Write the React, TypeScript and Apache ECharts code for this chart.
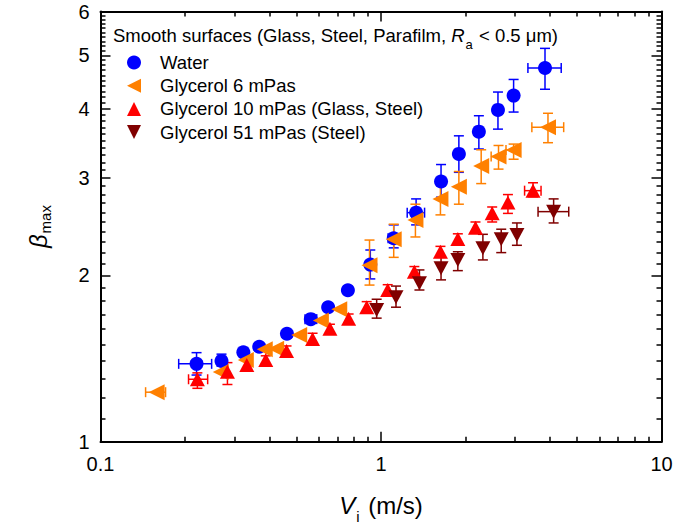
import React, { useEffect, useRef } from 'react';
import * as echarts from 'echarts';

const FONT = '"Liberation Sans", Arial, Helvetica, sans-serif';

// ---- Water ----
const waterV = [0.220, 0.270, 0.323, 0.368, 0.462, 0.562, 0.648, 0.762, 0.916, 1.110, 1.334, 1.637, 1.895, 2.233, 2.612, 2.970, 3.843];
const waterBeta = [1.383, 1.400, 1.451, 1.485, 1.568, 1.666, 1.751, 1.879, 2.091, 2.333, 2.596, 2.955, 3.316, 3.638, 3.982, 4.227, 4.743];
const waterBetaLow = [1.320, 1.370, null, null, null, null, null, null, 1.970, 2.242, 2.467, 2.769, 3.071, 3.384, 3.676, 3.947, 4.340];
const waterBetaHigh = [1.449, 1.440, null, null, null, null, null, null, 2.222, 2.467, 2.749, 3.172, 3.575, 3.887, 4.290, 4.521, 5.146];
const waterVLow = [0.190, null, null, null, null, 0.536, null, null, null, 1.06, 1.24, null, null, null, null, null, 3.34];
const waterVHigh = [0.249, null, null, null, null, 0.590, null, null, null, 1.17, 1.43, null, null, null, null, null, 4.39];

// ---- Glycerol 6 mPas ----
const glyc6V = [0.1585, 0.2683, 0.3296, 0.3851, 0.4228, 0.5108, 0.6105, 0.7098, 0.910, 1.110, 1.3265, 1.629, 1.895, 2.276, 2.624, 2.970, 3.938];
const glyc6Beta = [1.229, 1.337, 1.405, 1.469, 1.473, 1.560, 1.656, 1.736, 2.085, 2.323, 2.518, 2.748, 2.893, 3.153, 3.279, 3.371, 3.706];
const glyc6BetaLow = [null, null, null, null, null, null, null, null, 1.920, 2.155, 2.346, 2.572, 2.689, 2.930, 3.112, 3.243, 3.474];
const glyc6BetaHigh = [null, null, null, null, null, null, null, null, 2.316, 2.474, 2.689, 2.925, 3.081, 3.373, 3.434, 3.454, 3.927];
const glyc6VLow = [0.1448, null, null, null, null, null, null, null, null, null, null, null, null, null, 2.47, 2.79, 3.45];
const glyc6VHigh = [0.1706, null, null, null, null, null, null, null, null, null, null, null, null, null, 2.77, 3.10, 4.48];

// ---- Glycerol 10 mPas (Glass, Steel) ----
const glyc10V = [0.2215, 0.2835, 0.3323, 0.3883, 0.4605, 0.5702, 0.6575, 0.7666, 0.8892, 1.0566, 1.315, 1.629, 1.879, 2.172, 2.491, 2.835, 3.483];
const glyc10Beta = [1.297, 1.338, 1.377, 1.405, 1.459, 1.534, 1.601, 1.668, 1.751, 1.881, 2.030, 2.206, 2.326, 2.439, 2.590, 2.707, 2.845];
const glyc10BetaLow = [1.249, 1.269, 1.349, 1.380, 1.430, 1.500, 1.571, 1.631, 1.712, 1.843, 1.984, 2.155, 2.276, 2.387, 2.497, 2.588, 2.774];
const glyc10BetaHigh = [1.332, 1.390, 1.410, 1.430, 1.490, 1.571, 1.631, 1.702, 1.792, 1.923, 2.074, 2.256, 2.377, 2.497, 2.658, 2.799, 2.940];
const glyc10VLow = [0.206, null, null, null, null, null, null, null, null, null, null, null, null, null, null, null, 3.25];
const glyc10VHigh = [0.241, null, null, null, null, null, null, null, null, null, null, null, null, null, null, null, 3.72];

// ---- Glycerol 51 mPas (Steel) ----
const glyc51V = [0.965, 1.131, 1.371, 1.637, 1.879, 2.308, 2.683, 3.052, 4.125];
const glyc51Beta = [1.731, 1.825, 1.934, 2.059, 2.132, 2.239, 2.323, 2.365, 2.607];
const glyc51BetaLow = [1.673, 1.751, 1.881, 1.962, 2.039, 2.132, 2.198, 2.266, 2.487];
const glyc51BetaHigh = [1.810, 1.912, 2.045, 2.168, 2.206, 2.372, 2.423, 2.487, 2.749];
const glyc51VLow = [null, null, null, null, null, null, null, null, 3.63];
const glyc51VHigh = [null, null, null, null, null, null, null, null, 4.67];

// ---- Axis ticks ----
const xMajorTicks = [0.1, 1, 10];
const xMinorTicks = [0.2, 0.3, 0.4, 0.5, 0.6, 0.7, 0.8, 0.9, 2, 3, 4, 5, 6, 7, 8, 9];
const yMajorTicks = [1, 2, 3, 4, 5, 6];
const yMinorTicks = [
  1.1, 1.2, 1.3, 1.4, 1.5, 1.6, 1.7, 1.8, 1.9,
  2.1, 2.2, 2.3, 2.4, 2.5, 2.6, 2.7, 2.8, 2.9,
  3.1, 3.2, 3.3, 3.4, 3.5, 3.6, 3.7, 3.8, 3.9,
  4.1, 4.2, 4.3, 4.4, 4.5, 4.6, 4.7, 4.8, 4.9,
  5.1, 5.2, 5.3, 5.4, 5.5, 5.6, 5.7, 5.8, 5.9,
];

const groups = [
  { name: 'Water', color: '#0000FF', symbol: 'circle', size: 14, v: waterV, b: waterBeta, bl: waterBetaLow, bh: waterBetaHigh, vl: waterVLow, vh: waterVHigh },
  { name: 'Glycerol 6 mPas', color: '#FF8000', symbol: 'path://M0,50 L100,0 L100,100 Z', size: [16, 16], v: glyc6V, b: glyc6Beta, bl: glyc6BetaLow, bh: glyc6BetaHigh, vl: glyc6VLow, vh: glyc6VHigh },
  { name: 'Glycerol 10 mPas (Glass, Steel)', color: '#FF0000', symbol: 'path://M50,0 L100,100 L0,100 Z', size: [15, 14], v: glyc10V, b: glyc10Beta, bl: glyc10BetaLow, bh: glyc10BetaHigh, vl: glyc10VLow, vh: glyc10VHigh },
  { name: 'Glycerol 51 mPas (Steel)', color: '#800000', symbol: 'path://M0,0 L100,0 L50,100 Z', size: [15, 14], v: glyc51V, b: glyc51Beta, bl: glyc51BetaLow, bh: glyc51BetaHigh, vl: glyc51VLow, vh: glyc51VHigh },
];

const fmt = (v: number) => String(parseFloat(Number(v).toPrecision(6)));
const ok = (n: number) => typeof n === 'number' && isFinite(n);

function makeErrorSeries(g: any) {
  const data = g.v.map((v: number, i: number) => [
    v, g.b[i],
    g.bl[i] == null ? '-' : g.bl[i],
    g.bh[i] == null ? '-' : g.bh[i],
    g.vl[i] == null ? '-' : g.vl[i],
    g.vh[i] == null ? '-' : g.vh[i],
  ]);
  return {
    type: 'custom',
    name: g.name + ' error',
    xAxisIndex: 0,
    yAxisIndex: 0,
    encode: { x: 0, y: 1 },
    silent: true,
    data,
    renderItem: (params: any, api: any) => {
      const x = api.value(0);
      const y = api.value(1);
      const children: any[] = [];
      const cap = 5;
      const style = { stroke: g.color, lineWidth: 1.5, fill: 'none' };
      const bl = api.value(2), bh = api.value(3), vl = api.value(4), vh = api.value(5);
      if (ok(bl) && ok(bh)) {
        const a = api.coord([x, bl]);
        const b = api.coord([x, bh]);
        children.push({ type: 'line', shape: { x1: a[0], y1: a[1], x2: b[0], y2: b[1] }, style });
        children.push({ type: 'line', shape: { x1: a[0] - cap, y1: a[1], x2: a[0] + cap, y2: a[1] }, style });
        children.push({ type: 'line', shape: { x1: b[0] - cap, y1: b[1], x2: b[0] + cap, y2: b[1] }, style });
      }
      if (ok(vl) && ok(vh)) {
        const a = api.coord([vl, y]);
        const b = api.coord([vh, y]);
        children.push({ type: 'line', shape: { x1: a[0], y1: a[1], x2: b[0], y2: b[1] }, style });
        children.push({ type: 'line', shape: { x1: a[0], y1: a[1] - cap, x2: a[0], y2: a[1] + cap }, style });
        children.push({ type: 'line', shape: { x1: b[0], y1: b[1] - cap, x2: b[0], y2: b[1] + cap }, style });
      }
      return { type: 'group', children };
    },
  };
}

function makeScatterSeries(g: any) {
  return {
    type: 'scatter',
    name: g.name,
    xAxisIndex: 0,
    yAxisIndex: 0,
    symbol: g.symbol,
    symbolSize: g.size,
    itemStyle: { color: g.color, opacity: 1 },
    emphasis: { disabled: true },
    data: g.v.map((v: number, i: number) => [v, g.b[i]]),
  };
}

const lineStyle = { color: '#000', width: 2 };
const tickStyle = { color: '#000', width: 1.5 };

function xAxisDef(position: string, major: boolean, showLine: boolean, withLabel: boolean, extra: any = {}) {
  return {
    type: 'log', logBase: 10, min: 0.1, max: 10, position, gridIndex: 0,
    axisLine: { show: showLine, onZero: false, lineStyle },
    axisTick: { show: true, inside: true, length: major ? 10 : 5, lineStyle: tickStyle, customValues: major ? xMajorTicks : xMinorTicks },
    axisLabel: withLabel
      ? { show: true, customValues: xMajorTicks, formatter: fmt, color: '#000', fontSize: 20, fontFamily: FONT, margin: 12 }
      : { show: false },
    splitLine: { show: false },
    minorTick: { show: false },
    minorSplitLine: { show: false },
    ...extra,
  };
}

function yAxisDef(position: string, major: boolean, showLine: boolean, withLabel: boolean, extra: any = {}) {
  return {
    type: 'log', logBase: 10, min: 1, max: 6, position, gridIndex: 0,
    axisLine: { show: showLine, onZero: false, lineStyle },
    axisTick: { show: true, inside: true, length: major ? 10 : 5, lineStyle: tickStyle, customValues: major ? yMajorTicks : yMinorTicks },
    axisLabel: withLabel
      ? { show: true, customValues: yMajorTicks, formatter: fmt, color: '#000', fontSize: 20, fontFamily: FONT, margin: 11 }
      : { show: false },
    splitLine: { show: false },
    minorTick: { show: false },
    minorSplitLine: { show: false },
    ...extra,
  };
}

export default function App() {
  const ref = useRef<HTMLDivElement>(null);
  useEffect(() => {
    if (!ref.current) return;
    const chart = echarts.init(ref.current, null, { renderer: 'svg' });
    const series: any[] = [];
    groups.forEach((g) => {
      series.push(makeErrorSeries(g));
      series.push(makeScatterSeries(g));
    });
    const option: any = {
      animation: false,
      backgroundColor: '#fff',
      grid: { left: 100.5, right: 12.5, top: 11.5, bottom: 87.3, outerBoundsMode: 'none', containLabel: false },
      xAxis: [
        xAxisDef('bottom', true, true, true, {
          name: '{i|V}{s|i}{n| (m/s)}',
          nameLocation: 'middle',
          nameGap: 52,
          nameTextStyle: {
            color: '#000',
            rich: {
              i: { fontSize: 24, fontStyle: 'italic', fontFamily: FONT, color: '#000', verticalAlign: 'top' },
              n: { fontSize: 24, fontFamily: FONT, color: '#000', verticalAlign: 'top' },
              s: { fontSize: 15, fontFamily: FONT, color: '#000', verticalAlign: 'top', padding: [15, 2, 0, 1] },
            },
          },
        }),
        xAxisDef('bottom', false, false, false),
        xAxisDef('top', true, true, false),
        xAxisDef('top', false, false, false),
      ],
      yAxis: [
        yAxisDef('left', true, true, true, {
          name: '{i|β}{s|max}',
          nameLocation: 'middle',
          nameRotate: 90,
          nameGap: 48,
          nameTextStyle: {
            color: '#000',
            rich: {
              i: { fontSize: 24, fontStyle: 'italic', fontFamily: FONT, color: '#000', verticalAlign: 'top' },
              s: { fontSize: 15, fontFamily: FONT, color: '#000', verticalAlign: 'top', padding: [11, 0, 0, 1] },
            },
          },
        }),
        yAxisDef('left', false, false, false),
        yAxisDef('right', true, true, false),
        yAxisDef('right', false, false, false),
      ],
      legend: {
        show: true,
        orient: 'vertical',
        left: 127,
        top: 53,
        padding: 0,
        itemWidth: 42,
        itemHeight: 14,
        itemGap: 4.2,
        selectedMode: false,
        data: groups.map((g) => g.name),
        textStyle: { fontSize: 18.5, fontFamily: FONT, color: '#000' },
      },
      graphic: [
        {
          type: 'text',
          x: 113,
          y: 25.5,
          silent: true,
          style: {
            text: '{n|Smooth surfaces (Glass, Steel, Parafilm, }{i|R}{s|a}{n| < 0.5 μm)}',
            verticalAlign: 'top',
            align: 'left',
            rich: {
              n: { fontSize: 18.5, fontFamily: FONT, fill: '#000', verticalAlign: 'top' },
              i: { fontSize: 18.5, fontFamily: FONT, fontStyle: 'italic', fill: '#000', verticalAlign: 'top' },
              s: { fontSize: 13, fontFamily: FONT, fill: '#000', verticalAlign: 'top', padding: [12, 1, 0, 1] },
            },
          },
        },
      ],
      series,
    };
    chart.setOption(option);
    return () => chart.dispose();
  }, []);
  return (
    <div
      ref={ref}
      style={{ position: 'fixed', left: 0, top: 0, width: 674, height: 529, background: '#fff' }}
    />
  );
}
